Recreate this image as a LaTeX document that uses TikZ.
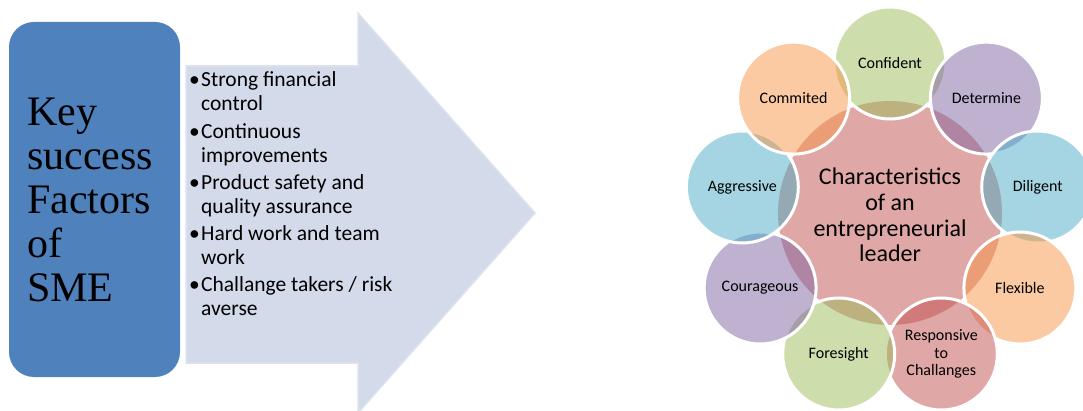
\documentclass[tikz,border=0pt]{standalone}
\usepackage{fontspec}
\setmainfont{Carlito}
\newfontfamily\timesfont{Liberation Serif}
\definecolor{boxblue}{HTML}{4F81BD}
\definecolor{arrowfill}{HTML}{D3DAEA}
\definecolor{arrowline}{HTML}{DDE2EF}
\definecolor{accred}{HTML}{C0504D}
\definecolor{accgreen}{HTML}{9BBB59}
\definecolor{accpurple}{HTML}{8064A2}
\definecolor{accaqua}{HTML}{4BACC6}
\definecolor{accorange}{HTML}{F79646}
\begin{document}
\begin{tikzpicture}[x=1pt,y=-1pt,
  petal/.style={circle,inner sep=0pt,minimum size=112pt,fill=#1,fill opacity=0.5,
    text opacity=1,draw=white,draw opacity=1,line width=3pt,align=center,
    font=\fontsize{16}{17.5}\selectfont},
  bulletmark/.style={anchor=base west,inner sep=0pt,font=\fontsize{21.5}{23.5}\selectfont},
  bulletitem/.style={anchor=base west,inner sep=0pt,align=left,font=\fontsize{21.5}{23.5}\selectfont}]
\useasboundingbox (0,0) rectangle (1083,411);
\clip (0,0) rectangle (1083,411);

% left box
\node[fill=boxblue,rounded corners=25pt,minimum width=171pt,minimum height=355pt,inner sep=0pt] (keybox) at (94.5,199.5) {};
\node[anchor=west,inner sep=0pt,align=left,font=\timesfont\fontsize{42}{44}\selectfont] (keytext) at (27,200)
  {Key\\success\\Factors\\of\\SME};

% arrow
\draw[fill=arrowfill,draw=arrowline,line width=1.5pt,line join=miter]
  (186,66) -- (358,66) -- (358,13) -- (535,213) -- (358,413) -- (358,363) -- (186,363) -- cycle;

% bullets (base anchor = last line's baseline)
\foreach \i/\y/\t in {1/87/{Strong financial\\control},
                      2/139/{Continuous\\improvements},
                      3/190/{Product safety and\\quality assurance},
                      4/241/{Hard work and team\\work},
                      5/292/{Challange takers / risk\\averse}}{
  \node[bulletmark] (bm\i) at (189,\y) {\textbullet};
  \node[bulletitem] (bt\i) at (201,\y+23.5) {\t};
}

% radial diagram
\node[circle,inner sep=0pt,minimum size=224pt,fill=accred,fill opacity=0.5] (ctr) at (890,213) {};
\node[petal=accgreen]  (p1) at (890,63)     {Confident};
\node[petal=accpurple] (p2) at (986.4,98.1) {Determine};
\node[petal=accaqua]   (p3) at (1037.7,187) {Diligent};
\node[petal=accorange] (p4) at (1019.9,288) {Flexible};
\node[petal=accred]    (p5) at (941.3,354)  {Responsive\\to\\Challanges};
\node[petal=accgreen]  (p6) at (838.7,354)  {Foresight};
\node[petal=accpurple] (p7) at (760.1,288)  {Courageous};
\node[petal=accaqua]   (p8) at (742.3,187)  {Aggressive};
\node[petal=accorange] (p9) at (793.6,98.1) {Commited};
\node[inner sep=0pt,align=center,font=\fontsize{24}{25.7}\selectfont] (ctrtext) at (890,215)
  {Characteristics\\of an\\entrepreneurial\\leader};
\end{tikzpicture}
\end{document}
